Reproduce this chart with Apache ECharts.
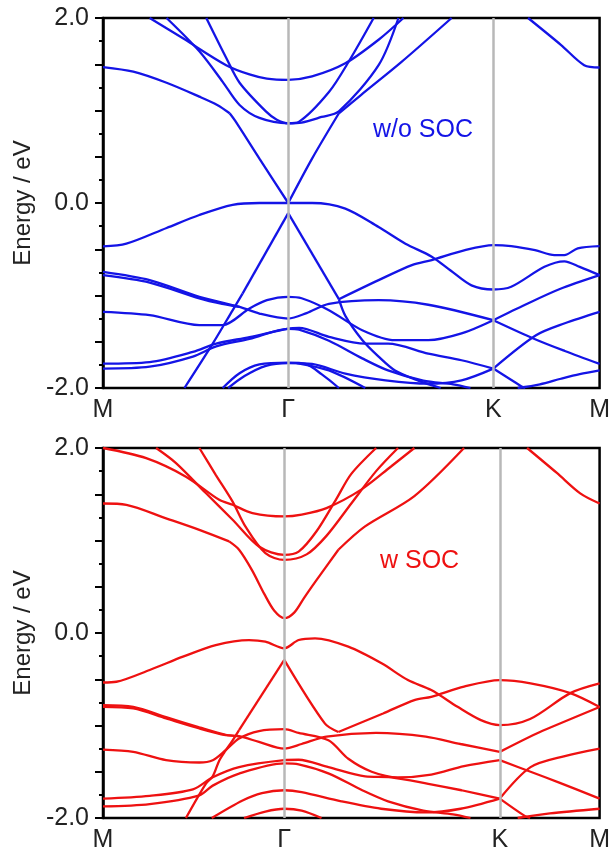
<!DOCTYPE html>
<html>
<head>
<meta charset="utf-8">
<script src="https://cdn.jsdelivr.net/npm/echarts@6/dist/echarts.min.js"></script>
<style>
  html, body { margin: 0; padding: 0; background: #fff; }
  #main { width: 613px; height: 861px; }
</style>
</head>
<body>
<div id="main"></div>
<script>
// k-path position (% of path length) and high-symmetry labels
const kLabels = ['M', 'Γ', 'K', 'M'];
const kTop = [0, 37.3, 78.6, 100];
const kBot = [0, 36.5, 79.9, 100];

// ---- w/o SOC bands: [k, E(eV)], split where the bands kink ----
const wo1a = [[0,1.47],[6.1,1.42],[12.8,1.30],[19.4,1.15],[23,1.06],[25.5,0.97]];
const wo1b = [[25.5,0.97],[26.6,0.89],[31.5,0.48],[37.3,0.0]];
const wo1c = [[37.3,0.0],[42.1,0.48],[47.5,0.97]];
const wo1d = [[47.5,0.97],[52,1.17],[60,1.52],[70.2,2.0]];
const wo2 = [[9.4,2.0],[16.1,1.78],[24.8,1.49],[29.5,1.39],[33,1.345],[37.3,1.332],[42.1,1.368],[48.8,1.51],[55.5,1.765],[60.5,2.0]];
const wo3 = [[12.8,2.0],[19.4,1.64],[24.1,1.31],[27.5,1.06],[31.5,0.92],[37.3,0.862],[39.5,0.88],[45.5,1.2],[49.5,1.53],[54.5,2.0]];
const wo4 = [[20.8,2.0],[24.8,1.57],[27.5,1.3],[32.8,0.99],[35,0.9],[37.3,0.862],[40,0.87],[44,0.93],[47.5,0.99],[55.5,1.49],[59.5,2.0]];
const wo5 = [[85.6,2.0],[92.2,1.71],[96.9,1.49],[100,1.465]];
const wo6 = [[0,-0.47],[4.7,-0.44],[12.8,-0.27],[19.4,-0.13],[26.1,-0.02],[31.5,0],[37.3,0],[42.1,0],[48.8,-0.06],[55.5,-0.26],[60.9,-0.44],[66.2,-0.58],[70,-0.73],[74.2,-0.89],[78.6,-0.935],[82.2,-0.906],[88.9,-0.69],[92.9,-0.63],[96,-0.69],[100,-0.78]];
const wo7a = [[16.4,-2.0],[22.1,-1.52],[26.1,-1.16],[28.1,-0.98]];
const wo7b = [[28.1,-0.98],[37.3,-0.11]];
const wo7c = [[37.3,-0.11],[47.5,-1.04]];
const wo7d = [[47.5,-1.04],[48.8,-1.22],[52.2,-1.48],[55.5,-1.66],[58.8,-1.81],[63.5,-1.92],[68,-2.0]];
const wo8 = [[47.5,-1.04],[55.5,-0.834],[62.2,-0.671],[66.2,-0.617],[72.9,-0.509],[78.6,-0.455],[82.2,-0.466],[87,-0.51],[90.9,-0.563],[92.9,-0.563],[95.6,-0.49],[100,-0.466]];
const wo9 = [[0,-0.745],[9.4,-0.834],[19.4,-1.014],[27.5,-1.123],[31.5,-1.195],[37.3,-1.249],[41,-1.19],[45.5,-1.09],[55.5,-1.05],[65.5,-1.10],[78.6,-1.267]];
const wo9b = [[78.6,-1.267],[85,-1.1],[92,-0.93],[100,-0.78]];
const wo10 = [[0,-0.78],[9.4,-0.86],[19.4,-1.03],[24,-1.09],[27.5,-1.123]];
const wo11 = [[0,-1.177],[9.4,-1.213],[19.4,-1.321],[24.1,-1.32],[29.5,-1.14],[33,-1.05],[37.3,-1.014],[40,-1.03],[45.5,-1.159],[52.2,-1.375],[58.8,-1.483],[65.5,-1.483],[72.2,-1.41],[78.6,-1.267]];
const wo11b = [[78.6,-1.267],[86.9,-1.47],[93,-1.6],[100,-1.74]];
const wo12 = [[0,-1.736],[9.4,-1.72],[18.1,-1.61],[22.8,-1.52],[29.5,-1.45],[37.3,-1.357],[39.5,-1.35],[45.5,-1.447],[52.8,-1.52],[57.4,-1.52],[65.5,-1.628],[72.2,-1.70],[78.6,-1.79]];
const wo12b = [[78.6,-1.79],[84.2,-1.98],[85,-2.0]];
const wo13 = [[0,-1.79],[9.4,-1.77],[18.1,-1.66],[22.8,-1.55],[29.5,-1.47],[37.3,-1.36],[39.5,-1.37],[45.5,-1.49],[52.2,-1.68],[57.4,-1.81],[64.5,-1.92],[70.5,-1.96],[74,-2.0]];
const wo14 = [[25.2,-2.0],[28.5,-1.87],[32.8,-1.76],[37.3,-1.73],[42.1,-1.74],[48.8,-1.845],[56.9,-1.917],[65.5,-1.953],[72.2,-1.917],[78.6,-1.79]];
const wo14b = [[78.6,-1.79],[87.2,-1.43],[93,-1.3],[100,-1.177]];
const wo15 = [[24.1,-2.0],[27.5,-1.84],[31.5,-1.745],[37.3,-1.725],[40.8,-1.74],[44,-1.85],[47.5,-2.0]];
const wo16 = [[39,-1.73],[45.5,-1.81],[52.8,-2.0]];
const wo17 = [[83.5,-2.0],[88,-1.96],[92.2,-1.9],[96,-1.85],[100,-1.81]];

// ---- w SOC bands ----
const ws1a = [[0,1.40],[4.7,1.386],[12.7,1.24],[19.4,1.115],[25.4,0.99]];
const ws1b = [[25.4,0.99],[27.4,0.9],[30,0.68],[32.5,0.42],[34.5,0.24],[36.5,0.16],[38.5,0.22],[40.5,0.38],[42.7,0.55],[47.4,0.9]];
const ws1c = [[47.4,0.9],[52.7,1.15],[62.7,1.48],[72.7,2.0]];
const ws2 = [[0,2.0],[8.7,1.89],[16.7,1.69],[23.4,1.44],[26.1,1.386],[30.1,1.296],[36.5,1.26],[40,1.28],[45,1.35],[52,1.55],[58,1.8],[62.7,2.0]];
const ws3 = [[10.7,2.0],[14.7,1.837],[20.7,1.513],[26.1,1.224],[31.4,0.935],[36.5,0.845],[39.4,0.88],[43,1.1],[47,1.45],[50,1.72],[55,2.0]];
const ws4 = [[19.4,2.0],[22.7,1.71],[26.1,1.42],[28.7,1.15],[32.7,0.863],[36.5,0.79],[41,0.85],[45,1.05],[50,1.4],[55,1.75],[59.4,2.0]];
const ws5 = [[85.4,2.0],[91.4,1.73],[96.1,1.51],[100,1.40]];
const ws6 = [[0,-0.535],[2.7,-0.527],[9.4,-0.4],[16.1,-0.256],[22.7,-0.13],[29.4,-0.076],[32.7,-0.094],[36.5,-0.166],[39.4,-0.076],[42.7,-0.058],[49.4,-0.148],[56.1,-0.328],[61.4,-0.509],[66.1,-0.617],[71.4,-0.798],[76.1,-0.942],[79.9,-0.996],[86,-0.93],[94.1,-0.65],[100,-0.545]];
const ws7a = [[16.7,-2.0],[20.7,-1.63],[22.1,-1.55],[23.4,-1.38],[24.7,-1.27],[26,-1.17],[27.4,-1.05]];
const ws7b = [[27.4,-1.05],[36.5,-0.29]];
const ws7c = [[36.5,-0.29],[44.7,-0.98],[47.4,-1.07]];
const ws7d = [[47.4,-1.07],[56.4,-0.87],[62.7,-0.725],[66.1,-0.69],[72.7,-0.58],[79.9,-0.51],[86.1,-0.545],[94.1,-0.65],[100,-0.8]];
const ws8 = [[0,-0.798],[6.1,-0.816],[12.7,-0.924],[19.4,-1.032],[24.7,-1.105],[27.4,-1.116],[31.4,-1.177],[36.5,-1.249],[40,-1.2],[45,-1.12],[55,-1.08],[65,-1.12],[72,-1.2],[79.9,-1.285]];
const ws8b = [[79.9,-1.285],[88,-1.07],[100,-0.8]];
const ws9 = [[0,-0.78],[6.1,-0.80],[12.7,-0.91],[19.4,-1.02],[24.7,-1.10],[27.4,-1.116]];
const ws10 = [[0,-1.26],[6.1,-1.285],[12.7,-1.375],[19.4,-1.40],[22.1,-1.375],[24.7,-1.267],[27.4,-1.14],[31.4,-1.06],[36.5,-1.04],[39.4,-1.08],[45.4,-1.16],[49.4,-1.36],[54.1,-1.5],[59.4,-1.56],[66.1,-1.53],[72.7,-1.44],[79.9,-1.375]];
const ws10b = [[79.9,-1.375],[86.1,-1.50],[92,-1.62],[100,-1.79]];
const ws11 = [[0,-1.79],[9.4,-1.76],[18.1,-1.69],[22.1,-1.56],[27.4,-1.45],[36.5,-1.375],[39.4,-1.37],[45.4,-1.45],[52.8,-1.55],[58,-1.56],[65.5,-1.63],[72.2,-1.70],[79.9,-1.79]];
const ws11b = [[79.9,-1.79],[85,-1.98],[86,-2.0]];
const ws12 = [[0,-1.875],[9.4,-1.85],[19.4,-1.755],[22.1,-1.65],[27.4,-1.52],[36.5,-1.41],[39.4,-1.42],[45.5,-1.52],[52.2,-1.7],[57.4,-1.82],[64.5,-1.92],[70.5,-1.96],[74,-2.0]];
const ws13 = [[21.9,-2.0],[28.1,-1.81],[32,-1.73],[36.5,-1.70],[40,-1.72],[48,-1.82],[56,-1.9],[65,-1.94],[72,-1.9],[79.9,-1.79]];
const ws13b = [[79.9,-1.79],[86.1,-1.45],[93,-1.33],[100,-1.25]];
const ws14 = [[28.4,-2.0],[32.7,-1.93],[36.5,-1.90],[40,-1.92],[44,-2.0]];
const ws15 = [[83.5,-2.0],[90,-1.95],[100,-1.9]];

const woBands = [wo1a, wo1b, wo1c, wo1d, wo2, wo3, wo4, wo5, wo6, wo7a, wo7b, wo7c, wo7d, wo8, wo9, wo9b, wo10,
  wo11, wo11b, wo12, wo12b, wo13, wo14, wo14b, wo15, wo16, wo17];
const wBands = [ws1a, ws1b, ws1c, ws2, ws3, ws4, ws5, ws6, ws7a, ws7b, ws7c, ws7d, ws8, ws8b, ws9, ws10, ws10b,
  ws11, ws11b, ws12, ws13, ws13b, ws14, ws15];

const BLUE = '#1414e6';
const RED = '#ee1111';
const FONT = 'Liberation Sans, Arial, sans-serif';

const chart = echarts.init(document.getElementById('main'));

function xAxisFor(gridIndex, kpts) {
  return {
    type: 'value', gridIndex, min: 0, max: 100,
    axisLine: { show: false },
    axisTick: { show: false },
    splitLine: { show: false },
    axisLabel: {
      customValues: kpts,
      formatter: v => kLabels[kpts.indexOf(v)],
      fontSize: 25, color: '#222', fontFamily: FONT, margin: 10
    }
  };
}

function yAxisFor(gridIndex) {
  return {
    type: 'value', gridIndex, min: -2, max: 2, interval: 0.5,
    name: 'Energy / eV', nameLocation: 'middle', nameGap: 53,
    nameTextStyle: { fontSize: 24, color: '#222', fontFamily: FONT },
    axisLine: { show: true, lineStyle: { color: '#000', width: 2.5 } },
    axisTick: { show: true, inside: false, length: 8, lineStyle: { color: '#000', width: 2 } },
    minorTick: { show: true, splitNumber: 2, length: 4, lineStyle: { color: '#000', width: 2 } },
    splitLine: { show: false },
    axisLabel: {
      fontSize: 25, color: '#222', fontFamily: FONT, margin: 14,
      formatter: v => (v === 2 || v === 0 || v === -2) ? v.toFixed(1) : ''
    }
  };
}

function bandSeries(bands, xi, color, kpts) {
  const out = [{
    type: 'line', xAxisIndex: xi, yAxisIndex: xi, data: [], silent: true,
    markLine: {
      silent: true, symbol: 'none', label: { show: false },
      lineStyle: { color: '#b8b8b8', width: 2.5, type: 'solid' },
      data: [{ xAxis: kpts[1] }, { xAxis: kpts[2] }]
    },
    z: 1
  }];
  bands.forEach(b => out.push({
    type: 'line', xAxisIndex: xi, yAxisIndex: xi, data: b,
    showSymbol: false, smooth: 0.3, clip: true, silent: true,
    lineStyle: { color, width: 2.3 }, z: 2
  }));
  return out;
}

const option = {
  backgroundColor: '#fff',
  animation: false,
  grid: [
    { left: 103, right: 11, top: 18, height: 370, show: true, borderColor: '#000', borderWidth: 2.5 },
    { left: 103, right: 10, top: 448, height: 370, show: true, borderColor: '#000', borderWidth: 2.5 }
  ],
  xAxis: [xAxisFor(0, kTop), xAxisFor(1, kBot)],
  yAxis: [yAxisFor(0), yAxisFor(1)],
  series: [].concat(bandSeries(woBands, 0, BLUE, kTop), bandSeries(wBands, 1, RED, kBot)),
  graphic: [
    { type: 'text', left: 373, top: 118, style: { text: 'w/o SOC', fill: BLUE, font: '25px ' + FONT } },
    { type: 'text', left: 380, top: 549, style: { text: 'w SOC', fill: RED, font: '25px ' + FONT } }
  ]
};

chart.setOption(option);
</script>
</body>
</html>
